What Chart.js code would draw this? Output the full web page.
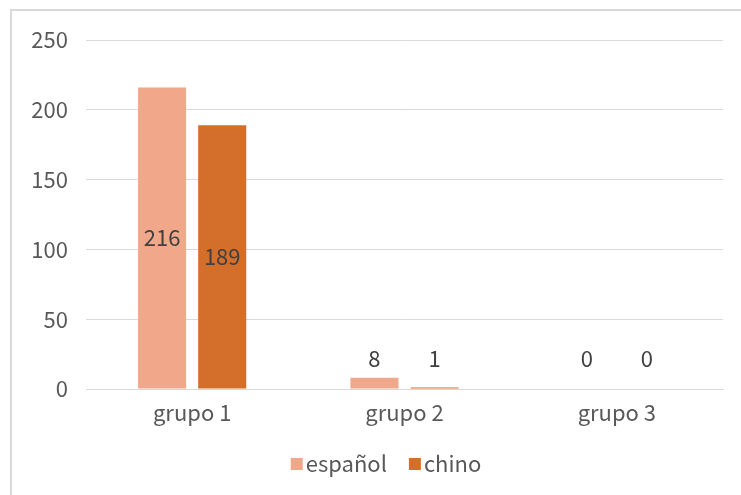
<!DOCTYPE html>
<html>
<head>
<meta charset="utf-8">
<script src="https://cdn.jsdelivr.net/npm/chart.js@4/dist/chart.umd.min.js"></script>
<style>
  html, body { margin: 0; padding: 0; background: #ffffff; }
  #wrap { position: relative; width: 741px; height: 495px; overflow: hidden; }
  #frame { position: absolute; left: 10px; top: 9px; width: 900px; height: 700px;
           border: 2px solid #D9D9D9; pointer-events: none; box-sizing: border-box; }
  canvas { position: absolute; left: 0; top: 0; }
</style>
</head>
<body>
<div id="wrap">
  <canvas id="c" width="741" height="495"></canvas>
  <div id="frame"></div>
</div>
<script>
const categories = ["grupo 1", "grupo 2", "grupo 3"];
const seriesNames = ["español", "chino"];
const espanol = [216, 8, 0];
const chino = [189, 1, 0];
const yTicks = [0, 50, 100, 150, 200, 250];

const FONT = '"Noto Sans CJK SC", "Noto Sans", sans-serif';

const labelPlugin = {
  id: 'barLabels',
  afterDatasetsDraw(chart) {
    const ctx = chart.ctx;
    ctx.save();
    ctx.font = '22px ' + FONT;
    ctx.fillStyle = '#404040';
    ctx.textAlign = 'center';
    ctx.textBaseline = 'middle';
    chart.data.datasets.forEach((ds, i) => {
      const meta = chart.getDatasetMeta(i);
      meta.data.forEach((el, j) => {
        const p = el.getProps(['x', 'y', 'base'], true);
        const h = p.base - p.y;
        let cy = h > 40 ? (p.y + p.base) / 2 : p.base - 30;
        ctx.fillText(String(ds.data[j]), p.x, cy);
      });
    });
    ctx.restore();
  }
};

// Legend drawn from the dataset labels/colours, centred on the chart frame
const legendPlugin = {
  id: 'customLegend',
  afterDraw(chart) {
    const ctx = chart.ctx;
    ctx.save();
    ctx.font = '22px ' + FONT;
    ctx.textBaseline = 'middle';
    ctx.textAlign = 'left';
    const box = 12, gap = 3, spacing = 22;
    const items = chart.data.datasets.map(ds => ({ text: ds.label, color: ds.backgroundColor, w: ctx.measureText(ds.label).width }));
    const total = items.reduce((a, it) => a + box + gap + it.w, 0) + spacing * (items.length - 1);
    const centerX = 386, cy = 464;
    let x = centerX - total / 2;
    items.forEach(it => {
      ctx.fillStyle = it.color;
      ctx.fillRect(x, cy - box / 2, box, box);
      ctx.fillStyle = '#595959';
      ctx.fillText(it.text, x + box + gap, cy);
      x += box + gap + it.w + spacing;
    });
    ctx.restore();
  }
};

new Chart(document.getElementById('c'), {
  type: 'bar',
  data: {
    labels: categories,
    datasets: [
      { label: seriesNames[0], data: espanol, backgroundColor: '#F1A789' },
      { label: seriesNames[1], data: chino, backgroundColor: '#D46F2B' }
    ]
  },
  options: {
    responsive: false,
    animation: false,
    devicePixelRatio: 1,
    layout: { padding: { top: 40, right: 18, bottom: 0, left: 0 } },
    datasets: { bar: { categoryPercentage: 0.566, barPercentage: 0.8 } },
    plugins: {
      legend: { display: false },
      tooltip: { enabled: false }
    },
    scales: {
      x: {
        afterFit(s) { s.height = 106; },
        grid: { display: false, drawTicks: false },
        border: { display: true, color: '#D9D9D9', width: 1 },
        ticks: { font: { size: 22, family: FONT }, color: '#595959', padding: 10 }
      },
      y: {
        min: 0, max: 250,
        afterBuildTicks(s) { s.ticks = yTicks.map(v => ({ value: v })); },
        afterFit(s) { s.width = 86; },
        grid: { color: '#D9D9D9', lineWidth: 1, drawTicks: false },
        border: { display: false },
        ticks: { font: { size: 22, family: FONT }, color: '#595959', padding: 18 }
      }
    }
  },
  plugins: [labelPlugin, legendPlugin]
});
</script>
</body>
</html>
